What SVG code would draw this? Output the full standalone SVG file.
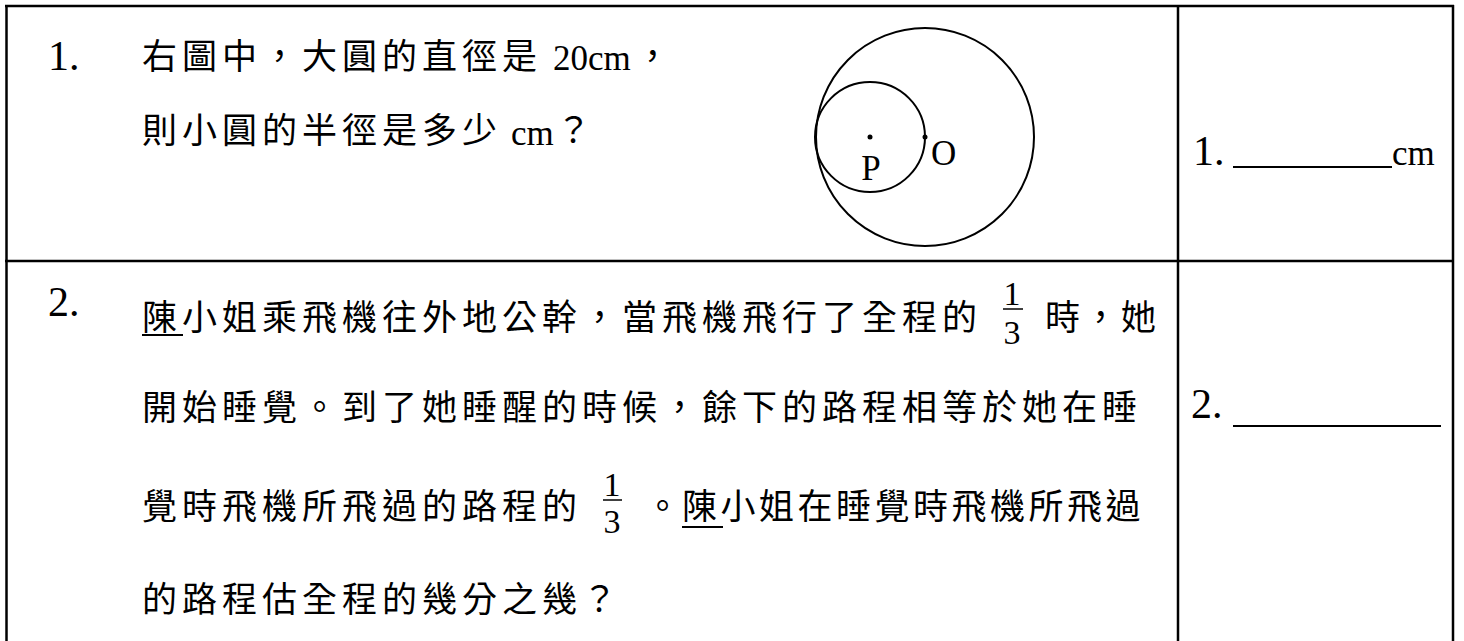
<svg xmlns="http://www.w3.org/2000/svg" width="1464" height="641" viewBox="0 0 1464 641">
<style>
.cjk{font-family:"Noto Sans CJK TC","Noto Sans CJK SC",sans-serif;font-size:35px;letter-spacing:5px;fill:#000}
.lat{font-family:"Liberation Serif",serif;font-size:35px;fill:#000}
.num{font-family:"Liberation Serif",serif;font-size:42px;fill:#000}
.frac{font-family:"Liberation Serif",serif;font-size:34px;fill:#000;text-anchor:middle}
.ln{stroke:#000;stroke-width:2.5;fill:none}
.ul{stroke:#000;stroke-width:2;fill:none}
.circ{stroke:#000;stroke-width:2;fill:none}
</style>
<rect width="1464" height="641" fill="#fff"/>
<g id="table">
<line class="ln" x1="5" y1="6" x2="1454" y2="6"/>
<line class="ln" x1="6.5" y1="5" x2="6.5" y2="641"/>
<line class="ln" x1="1178" y1="5" x2="1178" y2="641"/>
<line class="ln" x1="1453" y1="5" x2="1453" y2="641"/>
<line class="ln" x1="5" y1="261" x2="1454" y2="261"/>
</g>
<g id="q1">
<text class="num" x="48" y="70" font-size="44">1.</text>
<text class="cjk" x="142" y="69">右圖中，大圓的直徑是</text>
<text class="lat" x="553" y="70">20cm</text>
<text class="cjk" x="635" y="69">，</text>
<text class="cjk" x="142" y="143">則小圓的半徑是多少</text>
<text class="lat" x="511" y="145">cm</text>
<text class="cjk" x="556" y="143">？</text>
</g>
<g id="figure">
<circle class="circ" cx="925" cy="137" r="109"/>
<circle class="circ" cx="870" cy="137" r="55"/>
<circle cx="870" cy="137" r="2.5" fill="#000"/>
<circle cx="925" cy="137" r="2.5" fill="#000"/>
<text class="lat" x="871" y="180" text-anchor="middle">P</text>
<text class="lat" x="931" y="165">O</text>
</g>
<g id="a1">
<text class="num" x="1193" y="165">1.</text>
<line class="ul" x1="1233" y1="167" x2="1392" y2="167" stroke-width="1.6"/>
<text class="lat" x="1392" y="165" font-size="38">cm</text>
</g>
<g id="q2">
<text class="num" x="48" y="316">2.</text>
<text class="cjk" x="142" y="330">陳小姐乘飛機往外地公幹，當飛機飛行了全程的</text>
<line class="ul" x1="142" y1="335" x2="183" y2="335"/>
<text class="frac" x="1012" y="305">1</text>
<line x1="1003" y1="309" x2="1023" y2="309" stroke="#000" stroke-width="1.5"/>
<text class="frac" x="1012" y="344">3</text>
<text class="cjk" x="1045" y="330" style="letter-spacing:3px">時，她</text>
<text class="cjk" x="142" y="420">開始睡覺。到了她睡醒的時候，餘下的路程相等於她在睡</text>
<text class="cjk" x="142" y="519">覺時飛機所飛過的路程的</text>
<text class="frac" x="612" y="496">1</text>
<line x1="603" y1="500" x2="622" y2="500" stroke="#000" stroke-width="1.5"/>
<text class="frac" x="612" y="533">3</text>
<text class="cjk" x="645" y="519">。</text>
<text class="cjk" x="682" y="519" style="letter-spacing:3.5px">陳小姐在睡覺時飛機所飛過</text>
<line class="ul" x1="682" y1="527" x2="723" y2="527"/>
<text class="cjk" x="142" y="612">的路程估全程的幾分之幾？</text>
</g>
<g id="a2">
<text class="num" x="1191" y="418" font-size="38">2.</text>
<line class="ul" x1="1233" y1="426" x2="1441" y2="426"/>
</g>
</svg>
